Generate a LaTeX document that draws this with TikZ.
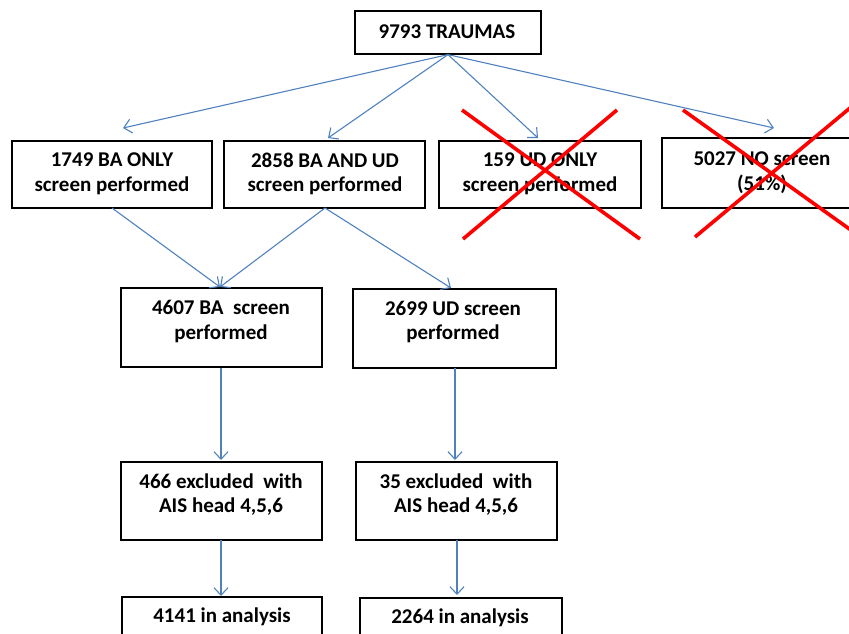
\documentclass[tikz,border=0pt]{standalone}
\usepackage{fontspec}
\setmainfont{Carlito}
\usetikzlibrary{arrows.meta,calc}
\definecolor{arrblue}{HTML}{4F81BD}
\definecolor{xred}{HTML}{FF0000}
\tikzset{
  box/.style={draw=black, line width=1.2pt, inner sep=0pt, fill=white},
  txt/.style={align=center, inner sep=0pt, font=\fontsize{21}{24.5}\selectfont\bfseries},
  conn/.style={draw=arrblue, line width=1.1pt, -{Straight Barb[length=7.5pt,width=14pt,line width=1.1pt]}},
  cross/.style={draw=xred, line width=3.6pt},
}
\begin{document}
\begin{tikzpicture}[x=1pt,y=-1pt]
\useasboundingbox (0,0) rectangle (849,633);
\clip (0,0) rectangle (849,633);
% boxes
\node[box, minimum width=186pt, minimum height=43pt] (top) at (448,32.5) {};
\node[box, minimum width=200pt, minimum height=67pt] (ba) at (112,174.5) {};
\node[box, minimum width=201pt, minimum height=67pt] (baud) at (324.5,174.5) {};
\node[box, minimum width=202pt, minimum height=67pt] (ud) at (540,174.5) {};
\node[box, minimum width=220pt, minimum height=70pt] (no) at (772,173) {};
\node[box, minimum width=201pt, minimum height=79pt] (bas) at (221.5,327.5) {};
\node[box, minimum width=203pt, minimum height=79pt] (uds) at (454.5,328.5) {};
\node[box, minimum width=201pt, minimum height=78pt] (bex) at (221.5,501) {};
\node[box, minimum width=201pt, minimum height=78pt] (uex) at (456.5,501) {};
\node[box, minimum width=200pt, minimum height=60pt] (ban) at (222,627) {};
\node[box, minimum width=202pt, minimum height=60pt] (uan) at (461,628) {};
% texts
\node[txt] (ttop) at (447,32) {9793 TRAUMAS};
\node[txt] (tba) at (112,174) {1749 BA ONLY\\screen performed};
\node[txt] (tbaud) at (325,174) {2858 BA AND UD\\screen performed};
\node[txt] (tud) at (540,174) {159 UD ONLY\\screen performed};
\node[txt] (tno) at (762,172.5) {5027 NO screen\\(51\%)};
\node[txt] (tbas) at (221,321.5) {4607 BA\ \ screen\\performed};
\node[txt] (tuds) at (453,322) {2699 UD screen\\performed};
\node[txt] (tbex) at (221,494.5) {466 excluded\ \ with\\AIS head 4,5,6};
\node[txt] (tuex) at (456,494.5) {35 excluded\ \ with\\AIS head 4,5,6};
\node[txt] (tban) at (222,617) {4141 in analysis};
\node[txt] (tuan) at (460,618) {2264 in analysis};
% connector endpoints
\coordinate (c1) at (123,128);
\coordinate (c2) at (328,138);
\coordinate (c3) at (538,138);
\coordinate (c4) at (774,128);
\coordinate (c5) at (220,287);
\coordinate (c6) at (451,288);
\coordinate (s1) at (112,208);
\coordinate (s2) at (325,208);
\coordinate (v1a) at (221,368);
\coordinate (v1b) at (221,460);
\coordinate (v2a) at (455,368);
\coordinate (v2b) at (455,460);
\coordinate (v3a) at (221,540);
\coordinate (v3b) at (221,596);
\coordinate (v4a) at (457,540);
\coordinate (v4b) at (457,595);
\path[conn] (top.south) -- (c1);
\path[conn] (top.south) -- (c2);
\path[conn] (top.south) -- (c3);
\path[conn] (top.south) -- (c4);
\path[conn] (s1) -- (c5);
\path[conn] (s2) -- (c5);
\path[conn] (s2) -- (c6);
\path[conn] (v1a) -- (v1b);
\path[conn] (v2a) -- (v2b);
\path[conn] (v3a) -- (v3b);
\path[conn] (v4a) -- (v4b);
% red crosses
\coordinate (x1a) at (462,110);
\coordinate (x1b) at (640,239);
\coordinate (x1c) at (617,110);
\coordinate (x1d) at (463,239);
\path[cross] (x1a) -- (x1b);
\path[cross] (x1c) -- (x1d);
\coordinate (x2a) at (683,110);
\coordinate (x2b) at (862,238);
\coordinate (x2c) at (862,98);
\coordinate (x2d) at (695,237);
\path[cross] (x2a) -- (x2b);
\path[cross] (x2c) -- (x2d);
\end{tikzpicture}
\end{document}
